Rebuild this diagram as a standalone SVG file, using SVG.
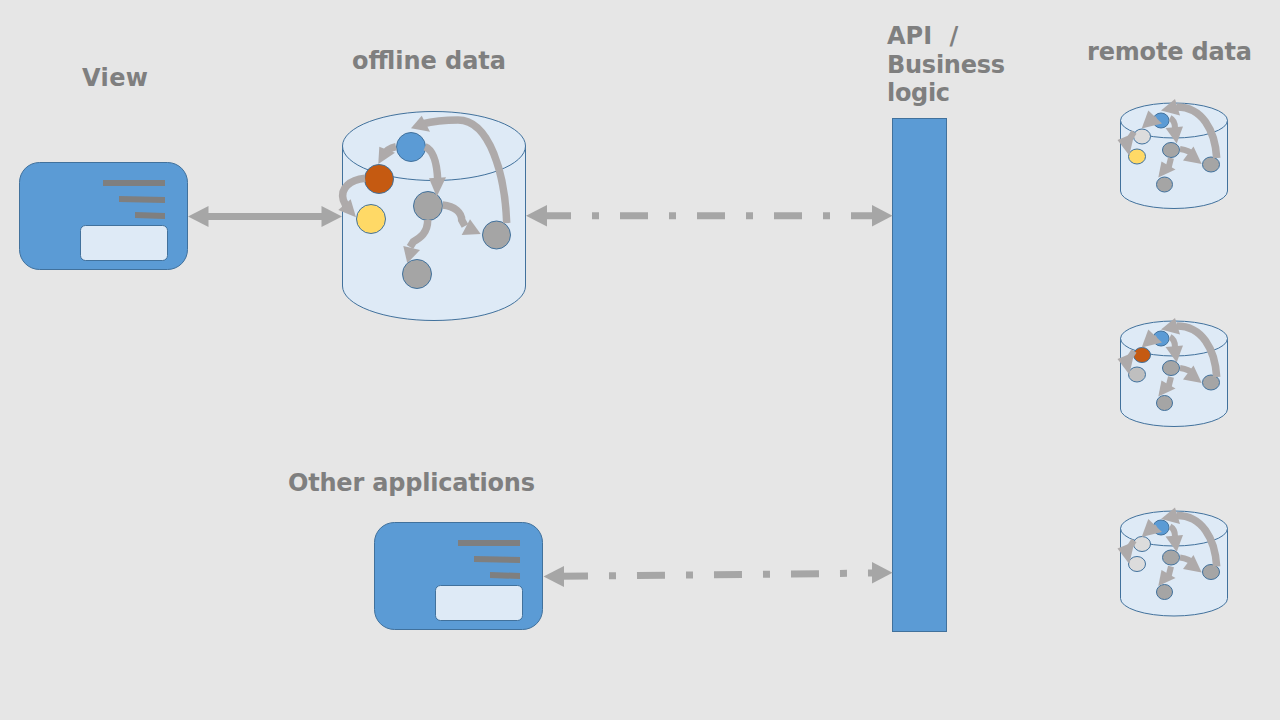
<svg xmlns="http://www.w3.org/2000/svg" width="1280" height="720" viewBox="0 0 1280 720">
<style>
.t{font-family:"DejaVu Sans","Liberation Sans",sans-serif;font-weight:700;font-size:24px;fill:#7f7f7f}
.b{fill:#5b9bd5;stroke:#41719c;stroke-width:1}
.l{fill:#deeaf6;stroke:#41719c;stroke-width:1}
.bar{fill:#7f7f7f}
.o{fill:#c55a11;stroke:#41719c}.y{fill:#ffd966;stroke:#41719c}.g{fill:#a5a5a5;stroke:#41719c}.p{fill:#dcdcdc;stroke:#41719c}.q{fill:#bfbfbf;stroke:#41719c}
.c{fill:none;stroke:#aeaaaa;stroke-width:7.5}
.e{fill:none;stroke:#aeaaaa;stroke-width:6}
.h{fill:#aeaaaa}
.s{fill:none;stroke:#a6a6a6;stroke-width:7}
.d{stroke-dasharray:28 21 7 21}
.k{fill:#a6a6a6}
</style>
<defs>
<g id="sa">
<path class="c" d="M1216.7 158C1215 130 1202 107 1177 107"/><polygon class="h" points="1161,110.5 1175,99 1180,115.5"/>
<path class="e" d="M1157 119L1150 122"/><polygon class="h" points="1141.7,128.5 1148.3,110.5 1162,123.5"/>
<path class="e" d="M1170 118C1174 120 1175 124 1175 128"/><polygon class="h" points="1176.7,143.5 1165.5,128 1183,126.5"/>
<path class="e" d="M1134 132L1128 141"/><polygon class="h" points="1129.3,155.5 1117.5,140 1134.5,133"/>
<path class="e" d="M1180 149C1187 150 1191 152 1194 155"/><polygon class="h" points="1201.7,164 1183,160.5 1193.5,146.5"/>
<path class="e" d="M1171 158L1168 170"/><polygon class="h" points="1158.3,177.5 1161.5,161.5 1175.5,169.5"/>
</g>
</defs>
<rect width="1280" height="720" fill="#e6e6e6"/>
<g id="labels">
<text class="t" x="82" y="86" textLength="66">View</text>
<text class="t" x="352" y="69" textLength="154">offline data</text>
<text class="t" x="288" y="491" textLength="247">Other applications</text>
<text class="t" x="887" y="44" style="word-spacing:9px">API /</text>
<text class="t" x="887" y="73" textLength="118">Business</text>
<text class="t" x="887" y="101" textLength="63">logic</text>
<text class="t" x="1087" y="60" textLength="165">remote data</text>
</g>
<g id="view">
<rect class="b" x="19.5" y="162.5" width="168" height="107" rx="20"/>
<rect class="bar" x="103" y="180" width="62" height="6"/>
<polygon class="bar" points="119,196 165,197 165,203 119,202"/>
<polygon class="bar" points="135,212 165,213 165,219 135,218"/>
<rect class="l" x="80.5" y="225.5" width="87" height="35" rx="5"/>
</g>
<g id="other-applications">
<rect class="b" x="374.5" y="522.5" width="168" height="107" rx="20"/>
<rect class="bar" x="458" y="540" width="62" height="6"/>
<polygon class="bar" points="474,556 520,557 520,563 474,562"/>
<polygon class="bar" points="490,572 520,573 520,579 490,578"/>
<rect class="l" x="435.5" y="585.5" width="87" height="35" rx="5"/>
</g>
<g id="offline-data">
<path class="l" d="M342.5 146V286A91.5 34.5 0 0 0 525.5 286V146Z"/>
<ellipse class="l" cx="434" cy="146" rx="91.5" ry="34.5"/>
<circle class="b" cx="411" cy="147" r="14.5"/>
<circle class="o" cx="379" cy="179" r="14.5"/>
<circle class="y" cx="371" cy="219" r="14.5"/>
<circle class="g" cx="428" cy="206" r="14.5"/>
<circle class="g" cx="496.5" cy="235" r="14"/>
<circle class="g" cx="417" cy="274" r="14.5"/>
</g>
<g id="api-business-logic"><rect class="b" x="892.5" y="118.5" width="54" height="513"/></g>
<g id="remote-1">
<path class="l" d="M1120.5 120.5V191A53.5 17.5 0 0 0 1227.5 191V120.5Z"/>
<ellipse class="l" cx="1174" cy="120.5" rx="53.5" ry="17.5"/>
<ellipse class="b" cx="1161" cy="120.5" rx="8" ry="7.5"/>
<ellipse class="p" cx="1142" cy="136.5" rx="8.5" ry="7.5"/>
<ellipse class="y" cx="1137" cy="156.5" rx="8.5" ry="7.5"/>
<ellipse class="g" cx="1171" cy="150" rx="8.5" ry="7.5"/>
<ellipse class="g" cx="1211" cy="164.5" rx="8.5" ry="7.5"/>
<ellipse class="g" cx="1164.5" cy="184.5" rx="8" ry="7.5"/>
</g>
<g id="remote-2">
<path class="l" d="M1120.5 338.5V409A53.5 17.5 0 0 0 1227.5 409V338.5Z"/>
<ellipse class="l" cx="1174" cy="338.5" rx="53.5" ry="17.5"/>
<ellipse class="b" cx="1161" cy="338.5" rx="8" ry="7.5"/>
<ellipse class="o" cx="1142" cy="355" rx="8.5" ry="7.5"/>
<ellipse class="q" cx="1137" cy="374.5" rx="8.5" ry="7.5"/>
<ellipse class="g" cx="1171" cy="368" rx="8.5" ry="7.5"/>
<ellipse class="g" cx="1211" cy="382.5" rx="8.5" ry="7.5"/>
<ellipse class="g" cx="1164.5" cy="403" rx="8" ry="7.5"/>
</g>
<g id="remote-3">
<path class="l" d="M1120.5 528.5V598.5A53.5 17.5 0 0 0 1227.5 598.5V528.5Z"/>
<ellipse class="l" cx="1174" cy="528.5" rx="53.5" ry="17.5"/>
<ellipse class="b" cx="1161" cy="527.5" rx="8" ry="7.5"/>
<ellipse class="p" cx="1142" cy="544" rx="8.5" ry="7.5"/>
<ellipse class="p" cx="1137" cy="564" rx="8.5" ry="7.5"/>
<ellipse class="g" cx="1171" cy="557.5" rx="8.5" ry="7.5"/>
<ellipse class="g" cx="1211" cy="572" rx="8.5" ry="7.5"/>
<ellipse class="g" cx="1164.5" cy="592" rx="8" ry="7.5"/>
</g>
<g id="connectors">
<path class="c" d="M506.7 223C505 175 490 120 458 120C443 120 430 122 422 124"/><polygon class="h" points="411,128.3 421.7,115.7 430,131.7"/>
<path class="c" d="M396 146.7C390 148 386 151 384 155"/><polygon class="h" points="378.3,164 379.3,146.7 395,152.7"/>
<path class="c" d="M425 146.7C433 150 437 163 437.7 180"/><polygon class="h" points="436.7,196.7 429,178.3 446,177.3"/>
<path class="c" d="M365 178.3C350 180 340 188 343.3 200L346 206"/><polygon class="h" points="356,217.3 338.3,210 350.7,199.3"/>
<path class="c" d="M442.7 205C455 206 461.7 213 461.7 220L465 226"/><polygon class="h" points="480.7,234 461.7,235 470,219.3"/>
<path class="c" d="M427.7 220C427.7 233 420 238 413.3 241.7L410 247"/><polygon class="h" points="407.3,263.3 403.3,246 420,250"/>
<use href="#sa"/>
<use href="#sa" y="219"/>
<use href="#sa" y="408.5"/>
<line class="s" x1="205" y1="216.5" x2="325" y2="216.5"/>
<polygon class="k" points="188,216.5 208.5,206 208.5,227"/>
<polygon class="k" points="342,216.5 321.5,206 321.5,227"/>
<line class="s d" x1="543" y1="215.7" x2="879" y2="215.7"/>
<polygon class="k" points="526,215.7 547,205 547,226.5"/>
<polygon class="k" points="892.5,215.7 872,205 872,226.5"/>
<line class="s d" x1="560" y1="576.3" x2="880" y2="573"/>
<polygon class="k" points="543.5,576.5 564,566 564,587"/>
<polygon class="k" points="892.5,572.8 872,562 872,583.5"/>
</g>
</svg>
